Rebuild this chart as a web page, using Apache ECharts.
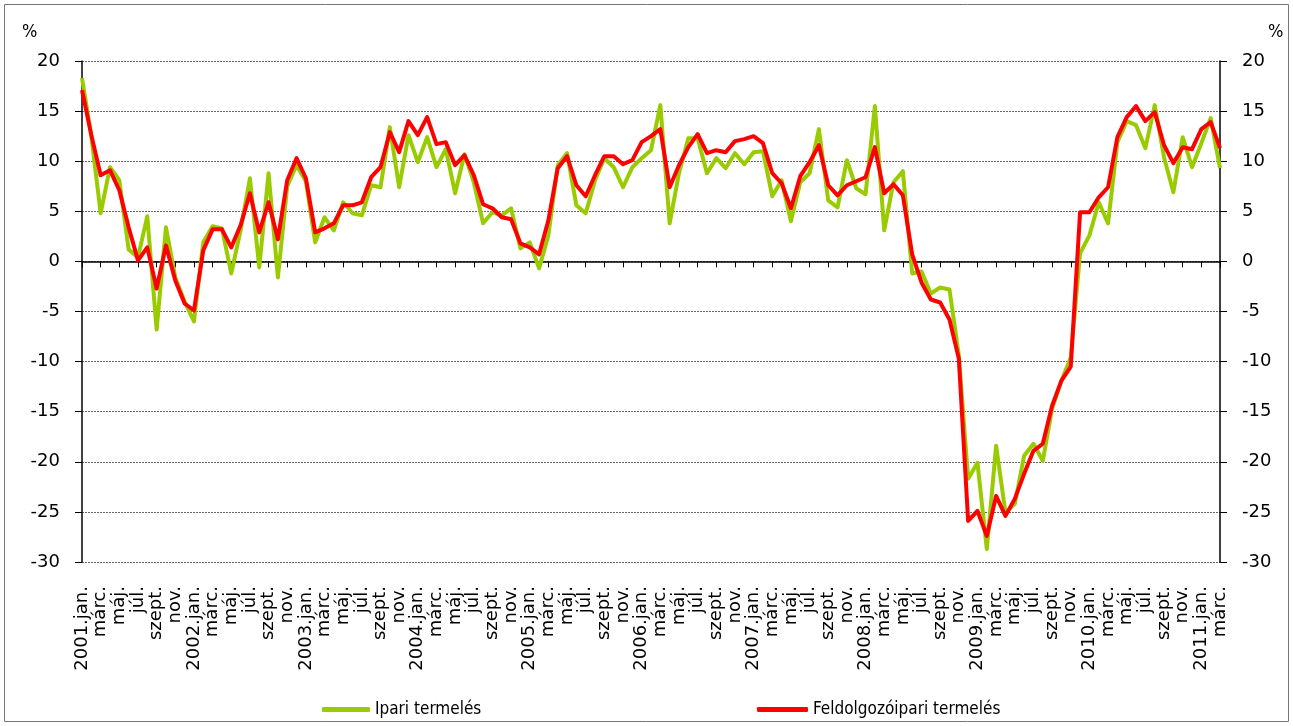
<!DOCTYPE html>
<html>
<head>
<meta charset="utf-8">
<script src="https://cdn.jsdelivr.net/npm/echarts@6/dist/echarts.min.js"></script>
<style>
  html, body { margin: 0; padding: 0; background: #fff; }
  #chart { width: 1293px; height: 726px; }
</style>
</head>
<body>
<div id="chart"></div>
<script>
// Monthly series, 2001 jan. – 2011 márc., year-on-year change in %
const startYear = 2001;
const monthNames = ['jan.', 'febr.', 'márc.', 'ápr.', 'máj.', 'jún.', 'júl.', 'aug.', 'szept.', 'okt.', 'nov.', 'dec.'];
const monthCount = 123;

const ipariTermeles = [
  18.3, 12.5, 4.8, 9.4, 8.1, 1.2, 0.4, 4.5, -6.8, 3.4, -1.6, -4.0,
  -6.0, 1.9, 3.5, 3.3, -1.2, 3.1, 8.3, -0.6, 8.8, -1.6, 7.5, 9.6,
  8.0, 1.9, 4.4, 3.1, 5.9, 4.8, 4.6, 7.6, 7.4, 13.4, 7.4, 12.6,
  9.9, 12.4, 9.4, 11.2, 6.8, 10.7, 7.9, 3.8, 4.9, 4.6, 5.3, 1.3,
  1.9, -0.7, 2.6, 9.6, 10.8, 5.6, 4.8, 8.1, 10.3, 9.4, 7.4, 9.4,
  10.3, 11.1, 15.6, 3.8, 8.8, 12.3, 12.3, 8.8, 10.3, 9.3, 10.8, 9.7,
  10.9, 11.0, 6.5, 8.1, 4.0, 7.9, 8.8, 13.2, 6.1, 5.4, 10.1, 7.3,
  6.7, 15.5, 3.1, 7.9, 9.0, -1.2, -1.0, -3.2, -2.6, -2.8, -9.4, -21.7,
  -20.1, -28.7, -18.4, -25.1, -24.2, -19.4, -18.2, -19.9, -14.7, -11.9, -9.6, 0.8,
  2.6, 5.9, 3.8, 11.9, 14.0, 13.6, 11.3, 15.6, 10.4, 6.9, 12.4, 9.4,
  11.8, 14.3, 9.3
];

const feldolgozoipariTermeles = [
  17.1, 12.6, 8.6, 9.1, 7.1, 3.4, 0.1, 1.4, -2.7, 1.6, -1.9, -4.2,
  -4.9, 1.1, 3.2, 3.2, 1.4, 3.6, 6.8, 2.9, 5.9, 2.2, 8.1, 10.3,
  8.3, 2.9, 3.3, 3.8, 5.6, 5.6, 5.9, 8.4, 9.4, 12.9, 10.9, 14.0,
  12.6, 14.4, 11.7, 11.9, 9.6, 10.6, 8.6, 5.7, 5.3, 4.4, 4.2, 1.8,
  1.4, 0.7, 4.1, 9.3, 10.5, 7.6, 6.5, 8.6, 10.5, 10.5, 9.7, 10.1,
  11.9, 12.5, 13.2, 7.4, 9.6, 11.4, 12.7, 10.8, 11.1, 10.9, 12.0, 12.2,
  12.5, 11.8, 8.8, 7.8, 5.3, 8.5, 9.9, 11.6, 7.6, 6.6, 7.6, 8.0,
  8.4, 11.4, 6.8, 7.7, 6.6, 0.7, -2.1, -3.8, -4.1, -5.8, -9.7, -25.9,
  -24.9, -27.4, -23.4, -25.4, -23.7, -21.2, -18.9, -18.2, -14.4, -11.9, -10.5, 4.9,
  4.9, 6.4, 7.4, 12.4, 14.4, 15.5, 14.0, 14.9, 11.6, 9.8, 11.4, 11.2,
  13.2, 13.9, 11.3
];

const seriesNames = ['Ipari termelés', 'Feldolgozóipari termelés'];
const yMin = -30, yMax = 20, yStep = 5;

// Category labels: "2001.jan.", "febr.", "márc.", ...
const categories = [];
for (let i = 0; i < monthCount; i++) {
  const m = i % 12;
  const y = startYear + Math.floor(i / 12);
  categories.push(m === 0 ? y + '.' + monthNames[m] : monthNames[m]);
}

const FONT = '"DejaVu Sans", sans-serif';
const FONT_NARROW = '"DejaVu Sans Condensed", "DejaVu Sans", sans-serif';
const chart = echarts.init(document.getElementById('chart'), null, { renderer: 'canvas' });

const yAxisBase = {
  type: 'value',
  min: yMin, max: yMax, interval: yStep,
  axisLine: { show: true, lineStyle: { color: '#000', width: 1.5 } },
  axisTick: { show: true, length: 7, lineStyle: { color: '#000' } },
  splitLine: { show: true, lineStyle: { color: '#666', type: [2, 1], width: 1 } },
  axisLabel: { color: '#000', fontSize: 18, fontFamily: FONT, margin: 22 }
};

chart.setOption({
  animation: false,
  backgroundColor: '#fff',
  grid: { left: 82, right: 73, top: 61, bottom: 164, containLabel: false },
  graphic: [
    { type: 'rect', shape: { x: 4.5, y: 4.5, width: 1284, height: 717 },
      style: { fill: 'none', stroke: '#777', lineWidth: 1 }, z: -1 },
    { type: 'text', left: 22, top: 23, style: { text: '%', fontSize: 18, fontFamily: FONT_NARROW, fill: '#000' } },
    { type: 'text', left: 1268, top: 23, style: { text: '%', fontSize: 18, fontFamily: FONT_NARROW, fill: '#000' } }
  ],
  legend: [
    { data: [seriesNames[0]], left: 317, top: 696, icon: 'roundRect', itemWidth: 48, itemHeight: 5,
      textStyle: { fontSize: 17, fontFamily: FONT_NARROW, color: '#000' } },
    { data: [seriesNames[1]], left: 752, top: 696, icon: 'roundRect', itemWidth: 51, itemHeight: 5,
      textStyle: { fontSize: 17, fontFamily: FONT_NARROW, color: '#000' } }
  ],
  xAxis: [
    {
      // zero line with month ticks
      type: 'category', data: categories, boundaryGap: false,
      axisLine: { show: true, onZero: true, lineStyle: { color: '#000', width: 1.5 } },
      axisTick: { show: true, interval: 1, length: 6, lineStyle: { color: '#000' } },
      axisLabel: { show: false },
      splitLine: { show: false }
    },
    {
      // month labels along the bottom edge
      type: 'category', data: categories, boundaryGap: false, position: 'bottom',
      axisLine: { show: false, onZero: false },
      axisTick: { show: false },
      axisLabel: { show: true, interval: 1, rotate: 90, margin: 24, color: '#000', fontSize: 18, fontFamily: FONT },
      splitLine: { show: false }
    }
  ],
  yAxis: [
    Object.assign({}, yAxisBase, { position: 'left' }),
    Object.assign({}, yAxisBase, { position: 'right', splitLine: { show: false } })
  ],
  series: [
    {
      name: seriesNames[0], type: 'line', data: ipariTermeles, xAxisIndex: 0, yAxisIndex: 0,
      symbol: 'none', lineStyle: { color: '#99cc00', width: 4, join: 'round' },
      itemStyle: { color: '#99cc00' }, z: 2
    },
    {
      name: seriesNames[1], type: 'line', data: feldolgozoipariTermeles, xAxisIndex: 0, yAxisIndex: 0,
      symbol: 'none', lineStyle: { color: '#ff0000', width: 4, join: 'round' },
      itemStyle: { color: '#ff0000' }, z: 3
    }
  ]
});
</script>
</body>
</html>
